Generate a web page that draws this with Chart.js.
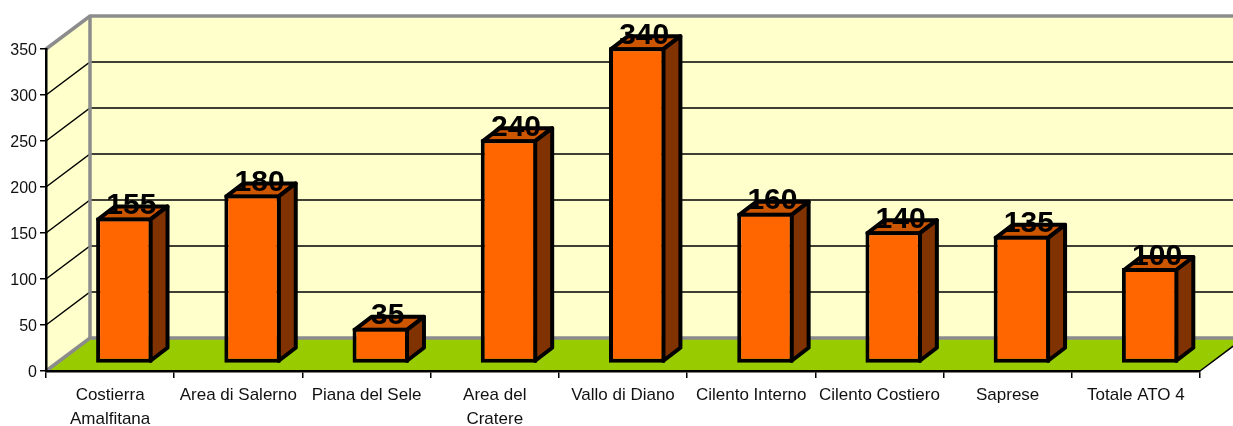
<!DOCTYPE html>
<html>
<head>
<meta charset="utf-8">
<style>html,body{margin:0;padding:0;background:#fff}canvas{display:block}</style>
<script src="https://cdn.jsdelivr.net/npm/chart.js@4/dist/chart.umd.min.js"></script>
</head>
<body>
<canvas id="myChart" width="1233" height="426"></canvas>
<script>
const categories = [['Costierra', 'Amalfitana'], 'Area di Salerno', 'Piana del Sele', ['Area del', 'Cratere'], 'Vallo di Diano', 'Cilento Interno', 'Cilento Costiero', 'Saprese', 'Totale ATO 4']
const values = [155, 180, 35, 240, 340, 160, 140, 135, 100]
const yTicks = [0, 50, 100, 150, 200, 250, 300, 350]

// depth of the fake 3d box and of the bars inside it
const wallDx = 44
const wallDy = 33
const barShiftX = 14.2
const barShiftY = 11
const barDx = 17
const barDy = 13
const barLine = 4

const box3d = {
  id: 'box3d',
  // walls go in before the axes so the axis lines stay on top
  beforeDraw (chart) {
    const { ctx, chartArea: a, width } = chart
    const y = chart.scales.y
    const poly = (pts, fill) => {
      ctx.beginPath()
      pts.forEach((p, i) => i ? ctx.lineTo(p[0], p[1]) : ctx.moveTo(p[0], p[1]))
      ctx.closePath()
      ctx.fillStyle = fill
      ctx.fill()
    }
    const line = (pts, color, w) => {
      ctx.beginPath()
      pts.forEach((p, i) => i ? ctx.lineTo(p[0], p[1]) : ctx.moveTo(p[0], p[1]))
      ctx.strokeStyle = color
      ctx.lineWidth = w
      ctx.stroke()
    }
    const backX = a.left + wallDx
    const right = width + 20
    ctx.save()
    poly([[a.left, a.top], [backX, a.top - wallDy], [right, a.top - wallDy], [right, a.bottom - wallDy], [backX, a.bottom - wallDy], [a.left, a.bottom]], '#ffffcc')
    poly([[a.left, a.bottom], [backX, a.bottom - wallDy], [a.right + wallDx, a.bottom - wallDy], [a.right, a.bottom]], '#99cc00')
    yTicks.slice(1, -1).forEach(v => {
      const py = y.getPixelForValue(v)
      line([[a.left, py], [backX, py - wallDy], [right, py - wallDy]], '#000', 1.5)
    })
    line([[a.left, a.top], [backX, a.top - wallDy], [right, a.top - wallDy]], '#8c8c8c', 3.5)
    line([[backX, a.top - wallDy], [backX, a.bottom - wallDy]], '#8c8c8c', 3.5)
    line([[a.left, a.bottom], [backX, a.bottom - wallDy], [right, a.bottom - wallDy]], '#8c8c8c', 3.5)
    line([[a.right, a.bottom], [a.right + wallDx, a.bottom - wallDy]], '#000', 1.5)
    ctx.restore()
  },
  beforeDatasetDraw (chart, args) {
    const { ctx } = chart
    ctx.save()
    ctx.translate(barShiftX, -barShiftY)
    // top and side faces, the front comes from the library
    args.meta.data.forEach(bar => {
      const p = bar.getProps(['x', 'y', 'base', 'width'])
      const l = p.x - p.width / 2 + barLine / 2
      const r = p.x + p.width / 2 - barLine / 2
      const t = p.y + barLine / 2
      const b = p.base - barLine / 2
      ctx.lineWidth = barLine
      ctx.lineJoin = 'round'
      ctx.strokeStyle = '#000'
      ctx.fillStyle = '#cc5500'
      ctx.beginPath()
      ctx.moveTo(l, t)
      ctx.lineTo(l + barDx, t - barDy)
      ctx.lineTo(r + barDx, t - barDy)
      ctx.lineTo(r, t)
      ctx.closePath()
      ctx.fill()
      ctx.stroke()
      ctx.fillStyle = '#803300'
      ctx.beginPath()
      ctx.moveTo(r, t)
      ctx.lineTo(r + barDx, t - barDy)
      ctx.lineTo(r + barDx, b - barDy)
      ctx.lineTo(r, b)
      ctx.closePath()
      ctx.fill()
      ctx.stroke()
    })
  },
  afterDatasetDraw (chart) {
    chart.ctx.restore()
  },
  afterDatasetsDraw (chart) {
    const { ctx } = chart
    const meta = chart.getDatasetMeta(0)
    ctx.save()
    ctx.font = 'bold 30px "Liberation Sans", Arial, sans-serif'
    ctx.fillStyle = '#000'
    ctx.textAlign = 'center'
    ctx.textBaseline = 'alphabetic'
    meta.data.forEach((bar, i) => {
      const p = bar.getProps(['x', 'y'])
      ctx.fillText(String(values[i]), p.x + barShiftX + 7, p.y - barShiftY - 3.5)
    })
    ctx.restore()
  }
}

const ctx = document.getElementById('myChart').getContext('2d')
const myChart = new Chart(ctx, {
  type: 'bar',
  data: {
    labels: categories,
    datasets: [{
      data: values,
      backgroundColor: '#ff6600',
      borderColor: '#000',
      borderWidth: barLine,
      borderSkipped: false,
      barPercentage: 0.44,
      categoryPercentage: 1,
      base: -3,
      clip: false
    }]
  },
  options: {
    responsive: false,
    animation: false,
    layout: { padding: { left: 0, right: 33, top: 49, bottom: 0 } },
    scales: {
      x: {
        afterFit (scale) { scale.height = 55 },
        grid: { drawOnChartArea: false, offset: true, color: '#000', lineWidth: 1.5, tickLength: 7 },
        border: { color: '#000', width: 2.5 },
        ticks: {
          color: '#111',
          maxRotation: 0,
          autoSkip: false,
          padding: 5,
          font: { family: '"Liberation Sans", Arial, sans-serif', size: 17, lineHeight: 1.42 }
        }
      },
      y: {
        min: 0,
        max: 350,
        afterFit (scale) { scale.width = 46 },
        afterBuildTicks (scale) { scale.ticks = yTicks.map(v => ({ value: v })) },
        grid: { drawOnChartArea: false, color: '#000', lineWidth: 1.5, tickLength: 6 },
        border: { color: '#000', width: 2.5 },
        ticks: {
          color: '#111',
          padding: 3,
          labelOffset: 1.5,
          font: { family: '"Liberation Sans", Arial, sans-serif', size: 16 }
        }
      }
    },
    plugins: {
      legend: { display: false },
      tooltip: { enabled: false }
    }
  },
  plugins: [box3d]
})
</script>
</body>
</html>
